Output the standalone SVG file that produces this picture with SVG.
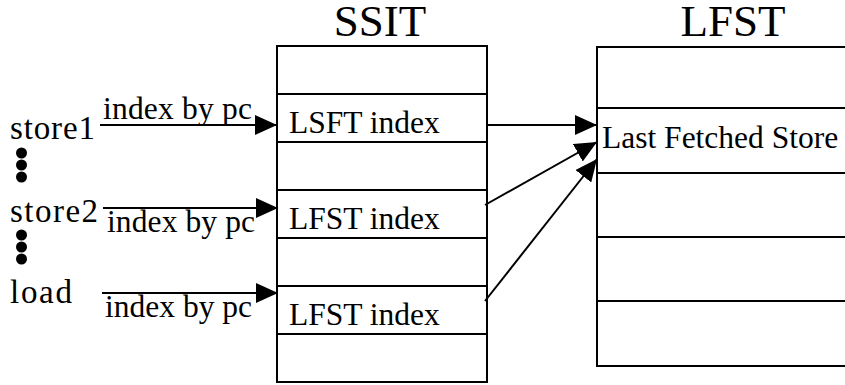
<svg xmlns="http://www.w3.org/2000/svg" width="845" height="385" viewBox="0 0 845 385">
<style>
.t{font-size:31.5px}
.s{font-size:33px}
.h{font-size:45px}
.box{fill:#fff;stroke:#000;stroke-width:2}
.row{stroke:#000;stroke-width:2}
.c{stroke:#000;stroke-width:2;fill:none;marker-end:url(#ah)}
.dot{fill:#000}
</style>
<defs>
<marker id="ah" markerUnits="userSpaceOnUse" markerWidth="22" markerHeight="20" refX="22" refY="10" orient="auto" viewBox="0 0 22 20">
<path d="M0,0 L22,10 L0,20 z" fill="#000"/>
</marker>
</defs>
<rect width="845" height="385" fill="#fff"/>
<g font-family="'Liberation Serif', 'Times New Roman', serif" fill="#000">
<g id="ssit">
<text class="h" x="380" y="36" text-anchor="middle">SSIT</text>
<rect class="box" x="277" y="46" width="210" height="336"/>
<line class="row" x1="277" y1="94" x2="487" y2="94"/>
<line class="row" x1="277" y1="142" x2="487" y2="142"/>
<line class="row" x1="277" y1="190" x2="487" y2="190"/>
<line class="row" x1="277" y1="238" x2="487" y2="238"/>
<line class="row" x1="277" y1="286" x2="487" y2="286"/>
<line class="row" x1="277" y1="334" x2="487" y2="334"/>
<text class="t" x="289" y="133">LSFT index</text>
<text class="t" x="289" y="229">LFST index</text>
<text class="t" x="289" y="325">LFST index</text>
</g>

<g id="lfst">
<text class="h" x="733" y="36" text-anchor="middle">LFST</text>
<rect class="box" x="597" y="47" width="275" height="319"/>
<line class="row" x1="597" y1="108" x2="872" y2="108"/>
<line class="row" x1="597" y1="173" x2="872" y2="173"/>
<line class="row" x1="597" y1="237" x2="872" y2="237"/>
<line class="row" x1="597" y1="301" x2="872" y2="301"/>
<text class="t" x="602" y="148">Last Fetched Store</text>
</g>

<g id="store1">
<text class="s" x="10" y="139" textLength="85">store1</text>
</g>
<g id="dots1">
<circle class="dot" cx="21.5" cy="153" r="5.5"/>
<circle class="dot" cx="21.5" cy="165" r="5.5"/>
<circle class="dot" cx="21.5" cy="177" r="5.5"/>
</g>
<g id="store2">
<text class="s" x="10" y="222" textLength="88">store2</text>
</g>
<g id="dots2">
<circle class="dot" cx="21.5" cy="235" r="5.5"/>
<circle class="dot" cx="21.5" cy="247" r="5.5"/>
<circle class="dot" cx="21.5" cy="259" r="5.5"/>
</g>
<g id="load">
<text class="s" x="10" y="303" textLength="62">load</text>
</g>

<g id="connectors">
<line class="c" x1="100" y1="125" x2="277" y2="125"/>
<line class="c" x1="103" y1="208" x2="278" y2="208"/>
<line class="c" x1="102" y1="293" x2="278" y2="293"/>
<line class="c" x1="487" y1="125" x2="597" y2="125"/>
<line class="c" x1="485" y1="205" x2="597" y2="142"/>
<line class="c" x1="485" y1="301" x2="597" y2="159"/>
<text class="t" x="103" y="119" textLength="149">index by pc</text>
<text class="t" x="107" y="232" textLength="148">index by pc</text>
<text class="t" x="105" y="317" textLength="147">index by pc</text>
</g>
</g>
</svg>
